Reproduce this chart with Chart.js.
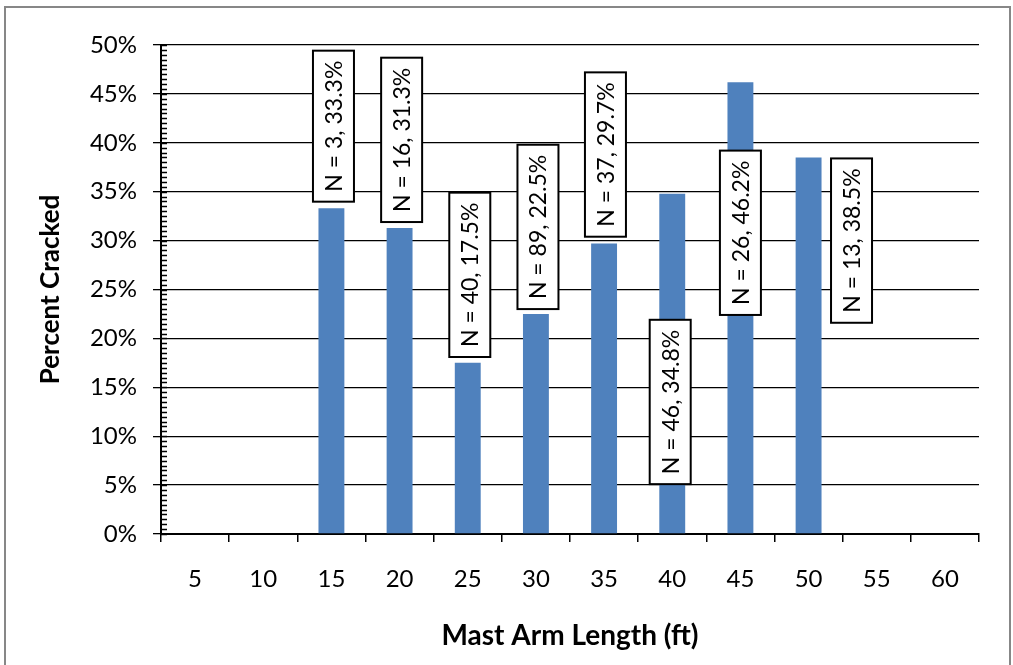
<!DOCTYPE html>
<html>
<head>
<meta charset="utf-8">
<script src="https://cdn.jsdelivr.net/npm/chart.js@4"></script>
<style>
  html, body { margin: 0; padding: 0; background: #fff; }
  canvas { display: block; }
</style>
</head>
<body>
<canvas id="crackChart" width="1013" height="665"></canvas>
<script>
// mast arm length vs percent cracked

const lengths = ["5", "10", "15", "20", "25", "30", "35", "40", "45", "50", "55", "60"];
const pctCracked = [null, null, 33.3, 31.3, 17.5, 22.5, 29.7, 34.8, 46.2, 38.5, null, null];
const sampleN = [null, null, 3, 16, 40, 89, 37, 46, 26, 13, null, null];

// where each callout box sits: centre value (%) and shift in categories
const calloutY = [null, null, 41.7, 40.3, 26.5, 31.4, 38.8, 13.5, 30.8, 30.0, null, null];
const calloutDx = [0, 0, 0.03, 0.03, 0.03, 0.03, 0.02, -0.03, 0, 0.63, 0, 0];

const FONT = "Lato";

const frame = {
    id: "frame",
    afterDraw(chart) {
        const ctx = chart.ctx;
        ctx.save();
        ctx.strokeStyle = "#878787";
        ctx.lineWidth = 2;
        ctx.strokeRect(5, 7, 1005, 670);
        ctx.restore();
    }
};

const minorTicks = {
    id: "minorTicks",
    beforeDatasetsDraw(chart) {
        const y = chart.scales.y;
        const ctx = chart.ctx;
        ctx.save();
        ctx.strokeStyle = "#000";
        ctx.lineWidth = 1.3;
        ctx.beginPath();
        for (let v = 0; v <= 50; v += 0.5) {
            const py = Math.round(y.getPixelForValue(v)) + 0.5;
            ctx.moveTo(y.right, py);
            ctx.lineTo(y.right + 6, py);
        }
        ctx.stroke();
        ctx.restore();
    }
};

const callouts = {
    id: "callouts",
    afterDatasetsDraw(chart) {
        const ctx = chart.ctx;
        const x = chart.scales.x, y = chart.scales.y;
        const step = x.getPixelForValue(1) - x.getPixelForValue(0);
        ctx.save();
        ctx.font = "23px " + FONT;
        pctCracked.forEach((v, i) => {
            if (v === null) return;
            const text = "N = " + sampleN[i] + ", " + v.toFixed(1) + "%";
            const cx = x.getPixelForValue(i) + calloutDx[i] * step;
            const cy = y.getPixelForValue(calloutY[i]);
            const w = 41;
            const h = ctx.measureText(text).width + 20;
            ctx.fillStyle = "#fff";
            ctx.fillRect(cx - w / 2, cy - h / 2, w, h);
            ctx.strokeStyle = "#000";
            ctx.lineWidth = 2;
            ctx.strokeRect(cx - w / 2, cy - h / 2, w, h);
            ctx.save();
            ctx.translate(cx, cy);
            ctx.rotate(-Math.PI / 2);
            ctx.fillStyle = "#000";
            ctx.textAlign = "center";
            ctx.textBaseline = "middle";
            ctx.fillText(text, 0, 1);
            ctx.restore();
        });
        ctx.restore();
    }
};

new Chart(document.getElementById("crackChart"), {
    type: "bar",
    data: {
        labels: lengths,
        datasets: [{
            label: "Percent Cracked",
            data: pctCracked,
            backgroundColor: "#4F81BD",
            barPercentage: 0.38,
            categoryPercentage: 1
        }]
    },
    options: {
        responsive: false,
        animation: false,
        devicePixelRatio: 1,
        layout: { padding: { left: 10, top: 45, right: 34, bottom: 0 } },
        plugins: {
            legend: { display: false },
            tooltip: { enabled: false }
        },
        scales: {
            x: {
                afterFit: s => { s.height = 131; },
                grid: { drawOnChartArea: false, offset: true, tickLength: 8, color: "#000", lineWidth: 1.5 },
                border: { color: "#000", width: 2 },
                ticks: { color: "#000", font: { family: FONT, size: 24 }, padding: 23 },
                title: {
                    display: true, text: "Mast Arm Length (ft)", color: "#000",
                    font: { family: FONT, size: 28, weight: "bold" }, padding: { bottom: 12 }
                }
            },
            y: {
                min: 0, max: 50,
                afterFit: s => { s.width = 151; },
                grid: { color: "#000", lineWidth: 1.3, tickLength: 8 },
                border: { color: "#000", width: 2 },
                ticks: { stepSize: 5, color: "#000", font: { family: FONT, size: 24 }, padding: 16, callback: v => v + "%" },
                title: {
                    display: true, text: "Percent Cracked", color: "#000",
                    font: { family: FONT, size: 26, weight: "bold" }, padding: { top: 25 }
                }
            }
        }
    },
    plugins: [frame, minorTicks, callouts]
});
</script>
</body>
</html>
